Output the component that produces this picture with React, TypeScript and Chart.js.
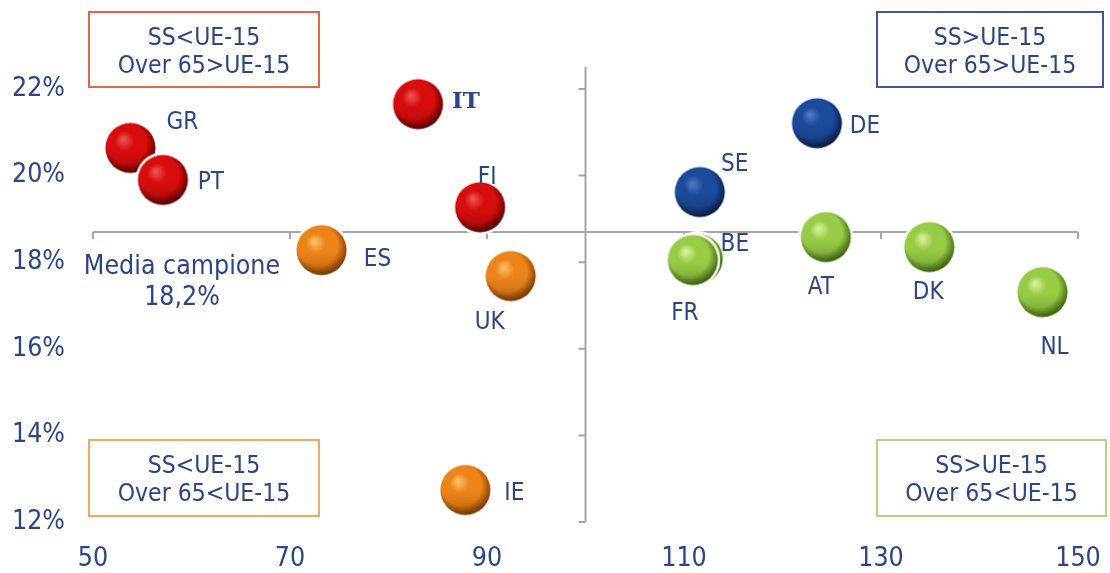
import React, { useEffect, useRef } from "react";
import { Chart, registerables } from "chart.js";

Chart.register(...registerables);

// ---- data ----
const redLabels = ["GR", "PT", "IT", "FI"];
const redX = [53.8, 57.1, 83.0, 89.3];
const redY = [20.64, 19.9, 21.65, 19.27];

const orangeLabels = ["ES", "UK", "IE"];
const orangeX = [73.2, 92.4, 87.8];
const orangeY = [18.28, 17.68, 12.74];

const blueLabels = ["SE", "DE"];
const blueX = [111.6, 123.5];
const blueY = [19.62, 21.21];

const greenLabels = ["BE", "FR", "AT", "DK", "NL"];
const greenX = [111.4, 110.9, 124.4, 134.9, 146.4];
const greenY = [18.08, 18.05, 18.58, 18.35, 17.31];

const xTicks = [50, 70, 90, 110, 130, 150];
const yTicks = [12, 14, 16, 18, 20, 22];
const crossX = 100;
const crossY = 18.7;
const mediaLabel = ["Media campione", "18,2%"];
const boxTopLeft = ["SS<UE-15", "Over 65>UE-15"];
const boxTopRight = ["SS>UE-15", "Over 65>UE-15"];
const boxBottomLeft = ["SS<UE-15", "Over 65<UE-15"];
const boxBottomRight = ["SS>UE-15", "Over 65<UE-15"];

// ---- styles / layout ----
const FONT = "'DejaVu Sans Condensed', 'DejaVu Sans', sans-serif";
const TEXT = "#2a4688";
const AXIS = "#a6a6a6";

const labelOffsets: Record<string, [number, number]> = {
  GR: [52, -25], PT: [48, 3], IT: [48, -2], FI: [7, -29],
  ES: [56, 10], UK: [-21, 47], IE: [49, 4],
  SE: [35, -27], DE: [48, 4],
  BE: [37, -14], FR: [-8, 54], AT: [-5, 51], DK: [-1, 46], NL: [12, 56],
};

const boxes = [
  { x: 89, y: 12, w: 230, h: 75, color: "#e2654e", lines: boxTopLeft },
  { x: 877, y: 12, w: 226, h: 75, color: "#3f56a0", lines: boxTopRight },
  { x: 89, y: 440, w: 230, h: 76, color: "#f4a762", lines: boxBottomLeft },
  { x: 877, y: 440, w: 229, h: 76, color: "#b2d67e", lines: boxBottomRight },
];

function makeSphere(r: number, halo: number, hi: string, mid: string, dark: string) {
  const c = document.createElement("canvas");
  const s = Math.ceil(2 * (r + halo));
  c.width = s;
  c.height = s;
  const g = c.getContext("2d")!;
  const cx = s / 2;
  g.fillStyle = "#ffffff";
  g.beginPath();
  g.arc(cx, cx, r + halo, 0, Math.PI * 2);
  g.fill();
  const grad = g.createRadialGradient(cx - r * 0.3, cx - r * 0.35, 0, cx - r * 0.1, cx - r * 0.12, r * 1.12);
  grad.addColorStop(0, hi);
  grad.addColorStop(0.35, mid);
  grad.addColorStop(0.72, mid);
  grad.addColorStop(1, dark);
  g.fillStyle = grad;
  g.beginPath();
  g.arc(cx, cx, r, 0, Math.PI * 2);
  g.fill();
  const sh = g.createLinearGradient(0, cx - r, 0, cx + r);
  sh.addColorStop(0, "rgba(0,0,0,0)");
  sh.addColorStop(0.55, "rgba(0,0,0,0)");
  sh.addColorStop(1, "rgba(0,0,0,0.22)");
  g.fillStyle = sh;
  g.beginPath();
  g.arc(cx, cx, r, 0, Math.PI * 2);
  g.fill();
  return c;
}

function toPts(xs: number[], ys: number[]) {
  return xs.map((x, i) => ({ x, y: ys[i] }));
}

export default function App() {
  const ref = useRef<HTMLCanvasElement>(null);

  useEffect(() => {
    const R = 25;
    const H = 2.5;
    const red = makeSphere(R, H, "#ee5c5c", "#d80d0d", "#6a0000");
    const orange = makeSphere(R, H, "#fcc66e", "#ec8419", "#8f4200");
    const blue = makeSphere(R, H, "#557cc4", "#1c4b9b", "#0a2250");
    const green = makeSphere(R, H, "#e0f4a4", "#98cc46", "#48760f");

    const groups = [
      { labels: redLabels, data: toPts(redX, redY), style: red },
      { labels: orangeLabels, data: toPts(orangeX, orangeY), style: orange },
      { labels: blueLabels, data: toPts(blueX, blueY), style: blue },
      { labels: greenLabels, data: toPts(greenX, greenY), style: green },
    ];

    const decor = {
      id: "decor",
      beforeDatasetsDraw(chart: any) {
        const ctx = chart.ctx;
        const xs = chart.scales.x;
        const ys = chart.scales.y;
        ctx.save();
        ctx.strokeStyle = AXIS;
        ctx.lineWidth = 2;
        const hy = ys.getPixelForValue(crossY);
        ctx.beginPath();
        ctx.moveTo(xs.getPixelForValue(xTicks[0]), hy);
        ctx.lineTo(xs.getPixelForValue(xTicks[xTicks.length - 1]), hy);
        xTicks.forEach((t) => {
          const px = xs.getPixelForValue(t);
          ctx.moveTo(px, hy);
          ctx.lineTo(px, hy + 7);
        });
        ctx.stroke();
        const vx = xs.getPixelForValue(crossX);
        ctx.beginPath();
        ctx.moveTo(vx, ys.getPixelForValue(yTicks[yTicks.length - 1]) - 22);
        ctx.lineTo(vx, ys.getPixelForValue(yTicks[0]));
        yTicks.forEach((t) => {
          const py = ys.getPixelForValue(t);
          ctx.moveTo(vx, py);
          ctx.lineTo(vx - 7, py);
        });
        ctx.stroke();

        ctx.fillStyle = TEXT;
        ctx.font = `26.5px ${FONT}`;
        ctx.textAlign = "center";
        ctx.textBaseline = "middle";
        ctx.fillText(mediaLabel[0], 182, 267);
        ctx.fillText(mediaLabel[1], 182, 298);

        boxes.forEach((b) => {
          ctx.strokeStyle = b.color;
          ctx.lineWidth = 2;
          ctx.strokeRect(b.x, b.y, b.w, b.h);
          ctx.fillStyle = TEXT;
          ctx.font = `24.5px ${FONT}`;
          ctx.fillText(b.lines[0], b.x + b.w / 2, b.y + 27);
          ctx.fillText(b.lines[1], b.x + b.w / 2, b.y + 55);
        });
        ctx.restore();
      },
      afterDatasetsDraw(chart: any) {
        const ctx = chart.ctx;
        ctx.save();
        ctx.fillStyle = TEXT;
        ctx.textAlign = "center";
        ctx.textBaseline = "middle";
        chart.data.datasets.forEach((ds: any, di: number) => {
          const meta = chart.getDatasetMeta(di);
          meta.data.forEach((el: any, i: number) => {
            const lab = ds.pointLabels[i];
            const off = labelOffsets[lab] || [40, 0];
            ctx.font = lab === "IT" ? `bold 23px 'DejaVu Serif', serif` : `24px ${FONT}`;
            ctx.fillText(lab, el.x + off[0], el.y + off[1]);
          });
        });
        ctx.restore();
      },
    };

    const chart = new Chart(ref.current!, {
      type: "scatter",
      data: {
        datasets: groups.map((g) => ({
          data: g.data,
          pointLabels: g.labels,
          pointStyle: g.style,
          pointRadius: R,
          pointHoverRadius: R,
          clip: false,
        })) as any,
      },
      options: {
        animation: false,
        responsive: true,
        maintainAspectRatio: false,
        layout: { padding: { top: 89, right: 32, left: 0, bottom: 0 } },
        plugins: { legend: { display: false }, tooltip: { enabled: false } },
        scales: {
          x: {
            type: "linear",
            min: xTicks[0],
            max: xTicks[xTicks.length - 1],
            grid: { display: false, drawTicks: false },
            border: { display: false },
            afterBuildTicks: (s: any) => {
              s.ticks = xTicks.map((v) => ({ value: v }));
            },
            afterFit: (s: any) => {
              s.height = 51;
              s.paddingLeft = 0;
              s.paddingRight = 0;
            },
            ticks: {
              color: TEXT,
              font: { family: FONT, size: 26.5 },
              padding: 21,
              maxRotation: 0,
              autoSkip: false,
            },
          },
          y: {
            type: "linear",
            min: yTicks[0],
            max: yTicks[yTicks.length - 1],
            grid: { display: false, drawTicks: false },
            border: { display: false },
            afterBuildTicks: (s: any) => {
              s.ticks = yTicks.map((v) => ({ value: v }));
            },
            afterFit: (s: any) => {
              s.width = 93;
              s.paddingTop = 0;
              s.paddingBottom = 0;
            },
            ticks: {
              color: TEXT,
              font: { family: FONT, size: 26.5 },
              padding: 28,
              callback: (v: any) => `${v}%`,
            },
          },
        },
      },
      plugins: [decor],
    } as any);
    return () => chart.destroy();
  }, []);

  return (
    <div style={{ position: "fixed", left: 0, top: 0, width: 1110, height: 573, background: "#fff" }}>
      <canvas ref={ref} />
    </div>
  );
}
